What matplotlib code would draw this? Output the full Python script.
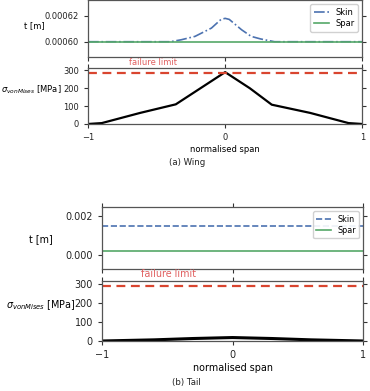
import matplotlib
matplotlib.use("Agg")
import matplotlib.pyplot as plt
import numpy as np

# ---- data ----
span = [-1.0, -0.4, -0.32, -0.22, -0.1, -0.03, 0.0, 0.03, 0.12, 0.19, 0.26, 0.36, 1.0]
wing_skin = [0.000600, 0.000600, 0.0006015, 0.0006041, 0.0006105, 0.0006172, 0.000618,
             0.0006172, 0.0006092, 0.0006041, 0.0006021, 0.000600, 0.000600]
wing_spar = [0.000600] * len(span)

stress_span = [-1.0, -0.9, -0.62, -0.36, -0.18, 0.0, 0.18, 0.34, 0.62, 0.9, 1.0]
wing_stress = [0, 5, 62, 110, 200, 290, 200, 108, 62, 5, 0]

tail_span = [-1.0, -0.6, -0.3, 0.0, 0.3, 0.6, 1.0]
tail_skin = [0.0015] * len(tail_span)
tail_spar = [0.0002] * len(tail_span)
tail_stress = [0, 6, 13, 18, 13, 6, 0]

failure_limit = 285

skin_c = "#4c72b0"
spar_c = "#55a868"
fail_c = "#d9452f"

fig = plt.figure(figsize=(3.70, 3.91), dpi=100)


def style(ax, fs):
    ax.tick_params(direction="out", top=True, right=True, labelsize=fs,
                   length=3, width=0.8, colors="#333333", labelcolor="#222222")
    for s in ax.spines.values():
        s.set_linewidth(0.9)
        s.set_color("#555555")
    ax.set_xlim(-1, 1)
    ax.set_xticks([-1, 0, 1])


def panel(rect_t, rect_b, x, skin, spar, skin_ls, xs, stress, ylim_t, yticks_t,
          fs, lfs, lab_t, lab_b, cap, cap_y, lw):
    ax1 = fig.add_axes(rect_t)
    ax2 = fig.add_axes(rect_b)
    ax1.plot(x, skin, ls=skin_ls, color=skin_c, lw=1.2, label="Skin")
    ax1.plot(x, spar, color=spar_c, lw=1.2, label="Spar")
    ax1.set_ylim(*ylim_t)
    ax1.set_yticks(yticks_t)
    style(ax1, fs)
    ax1.tick_params(labelbottom=False)
    ax1.legend(loc="upper right", fontsize=lfs, handlelength=1.8,
               borderpad=0.4, labelspacing=0.3, framealpha=0.9)
    ax1.set_ylabel("t [m]", rotation=0, ha="right", va="center", fontsize=fs)
    ax1.yaxis.set_label_coords(*lab_t)

    ax2.plot(xs, stress, color="black", lw=lw)
    ax2.axhline(failure_limit, color=fail_c, ls=(0, (4, 2.5)), lw=1.6)
    ax2.set_ylim(0, 315)
    ax2.set_yticks([0, 100, 200, 300])
    style(ax2, fs)
    ax2.text(-0.7, 1.02, "failure limit", color="#e06060", fontsize=fs,
             transform=ax2.get_xaxis_transform(), va="bottom", ha="left")
    ax2.set_ylabel(r"$\sigma_{vonMises}$ [MPa]", rotation=0, ha="right",
                   va="center", fontsize=fs)
    ax2.yaxis.set_label_coords(*lab_b)
    ax2.set_xlabel("normalised span", fontsize=fs, labelpad=2)
    fig.text(0.505, cap_y, cap, fontsize=6.2, ha="center", va="center",
             color="#222222")


panel([0.238, 0.8535, 0.741, 0.146], [0.238, 0.6829, 0.741, 0.144],
      span, wing_skin, wing_spar, "-.", stress_span, wing_stress,
      (0.000588, 0.000632), [0.00060, 0.00062], 6.0, 6.0,
      (-0.16, 0.55), (-0.095, 0.6), "(a) Wing", 1 - 163 / 391, 1.6)

panel([0.2757, 0.312, 0.7054, 0.1578], [0.2757, 0.1279, 0.7054, 0.1542],
      tail_span, tail_skin, tail_spar, "--", tail_span, tail_stress,
      (-0.00072, 0.00245), [0.000, 0.002], 6.9, 5.8,
      (-0.188, 0.49), (-0.103, 0.6), "(b) Tail", 1 - 383 / 391, 2.2)

fig.savefig("out.png", dpi=100)
